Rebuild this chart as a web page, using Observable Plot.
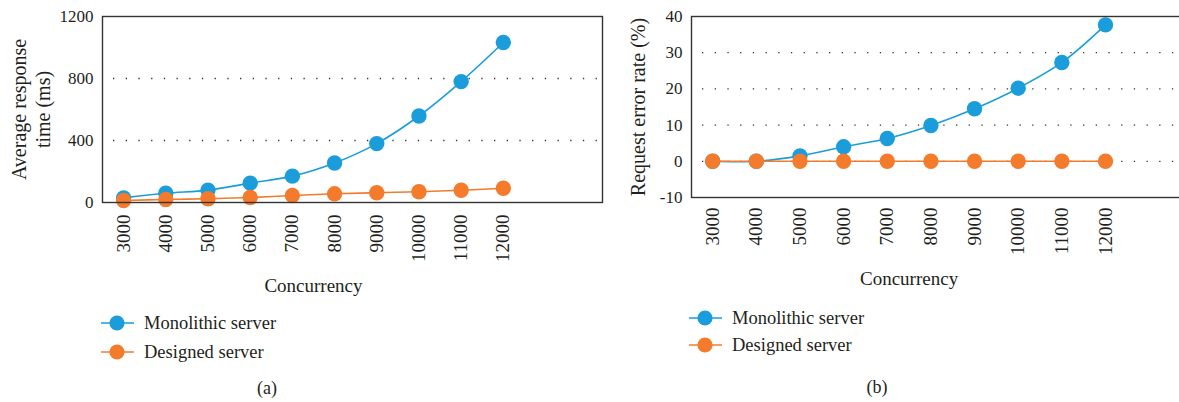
<!DOCTYPE html>
<html><head><meta charset="utf-8">
<script src="https://cdn.jsdelivr.net/npm/d3@7"></script>
<script src="https://cdn.jsdelivr.net/npm/@observablehq/plot@0.6"></script>
<style>
body{margin:0;width:1179px;height:402px;overflow:hidden;background:#fff;position:relative;font-family:"Liberation Serif",serif;color:#231f20}
.panel{position:absolute;top:0;width:640px}
.panel svg{max-width:none !important}
.lrow{position:absolute;display:flex;align-items:center;height:30px;font-size:18.5px;white-space:nowrap}
.lrow svg{margin-right:10px}
.caption{position:absolute;font-size:18px;transform:translate(-50%,-50%);white-space:nowrap}
</style></head><body>
<div id="a" class="panel" style="left:0"></div>
<div id="b" class="panel" style="left:590px"></div>
<div id="legends"></div>
<script>
const concurrency = [3000, 4000, 5000, 6000, 7000, 8000, 9000, 10000, 11000, 12000];
const seriesNames = ["Monolithic server", "Designed server"];
const seriesColors = ["#1b9ddb", "#f47b2c"];
const respMonolithic = [30, 60, 80, 125, 170, 255, 380, 558, 780, 1032];
const respDesigned = [13, 19, 24, 32, 45, 56, 63, 69, 79, 92];
const errMonolithic = [0, 0, 1.5, 4, 6.3, 9.9, 14.5, 20.2, 27.3, 37.7];
const errDesigned = [0, 0, 0, 0, 0, 0, 0, 0, 0, 0];
const yTicksA = [0, 400, 800, 1200];
const gridA = [400, 800];
const yTicksB = [-10, 0, 10, 20, 30, 40];
const gridB = [0, 10, 20, 30];
const xTitle = "Concurrency";
const yLabelA = "Average response\ntime (ms)";
const yLabelB = "Request error rate (%)";
const captions = ["(a)", "(b)"];

function rows(a, b) {
  const out = [];
  concurrency.forEach((c, i) => out.push({x: c, y: a[i], s: seriesNames[0]}));
  concurrency.forEach((c, i) => out.push({x: c, y: b[i], s: seriesNames[1]}));
  return out;
}
const xMid = d3.mean(concurrency);

function panel({data, yDomain, yTicks, grid, yLabel, labelDx, width, mL, mR, mB, height, xDomain, gridInset, titleDy, tickPad}) {
  return Plot.plot({
    width, height, marginLeft: mL, marginRight: mR, marginTop: 16, marginBottom: mB,
    style: {fontFamily: '"Liberation Serif", serif', fontSize: "18px", color: "#231f20", background: "transparent", overflow: "visible", maxWidth: "none"},
    x: {type: "linear", domain: xDomain},
    y: {domain: yDomain},
    color: {domain: seriesNames, range: seriesColors},
    marks: [
      Plot.ruleY(grid, {y: d => d, stroke: "#333", strokeWidth: 1.3, strokeDasharray: "1.3,11.4", insetLeft: gridInset, insetRight: 4}),
      Plot.line(data, {x: "x", y: "y", z: "s", stroke: "s", curve: "catmull-rom", strokeWidth: 1.6}),
      Plot.dot(data, {x: "x", y: "y", fill: "s", r: 7.7}),
      Plot.frame({stroke: "#333", strokeWidth: 1.4}),
      Plot.axisX({ticks: concurrency, tickFormat: d => String(d), tickRotate: -90, tickSize: 0, tickPadding: tickPad, label: null, fontSize: 19}),
      Plot.axisY({ticks: yTicks, tickFormat: d => String(d), tickSize: 0, tickPadding: 9, label: null, fontSize: 17}),
      Plot.text([yLabel], {text: d => d, frameAnchor: "left", textAnchor: "middle", rotate: -90, dx: labelDx, fontSize: 20, lineAnchor: "middle", lineHeight: 1.2}),
      Plot.text([xTitle], {text: d => d, x: () => xMid, frameAnchor: "bottom", dy: titleDy, fontSize: 19, lineAnchor: "middle"})
    ]
  });
}

document.getElementById("a").append(panel({
  data: rows(respMonolithic, respDesigned), yDomain: [0, 1200], yTicks: yTicksA, grid: gridA,
  yLabel: yLabelA, labelDx: -72, width: 612, mL: 102, mR: 10, mB: 98, height: 300,
  xDomain: [2500, 14350], gridInset: 11, titleDy: 83, tickPad: 12
}));
document.getElementById("b").append(panel({
  data: rows(errMonolithic, errDesigned), yDomain: [-10, 40], yTicks: yTicksB, grid: gridB,
  yLabel: yLabelB, labelDx: -54, width: 625, mL: 101, mR: 7, mB: 103, height: 300,
  xDomain: [2515, 14360], gridInset: 11, titleDy: 81, tickPad: 10
}));

const leg = document.getElementById("legends");
function legend(x, ys) {
  seriesNames.forEach((name, i) => {
    const row = document.createElement("div");
    row.className = "lrow";
    row.style.left = x + "px";
    row.style.top = (ys[i] - 15) + "px";
    const svg = d3.create("svg").attr("width", 33).attr("height", 18);
    svg.append("line").attr("x1", 0).attr("x2", 33).attr("y1", 9).attr("y2", 9).attr("stroke", seriesColors[i]).attr("stroke-width", 1.6);
    svg.append("circle").attr("cx", 16).attr("cy", 9).attr("r", 7.6).attr("fill", seriesColors[i]);
    row.append(svg.node());
    row.append(document.createTextNode(name));
    leg.append(row);
  });
}
legend(101, [323, 352]);
legend(689, [318, 345]);
[[267, 388], [877, 387]].forEach(([x, y], i) => {
  const c = document.createElement("div");
  c.className = "caption";
  c.style.left = x + "px"; c.style.top = y + "px";
  c.textContent = captions[i];
  leg.append(c);
});
</script>
</body></html>
